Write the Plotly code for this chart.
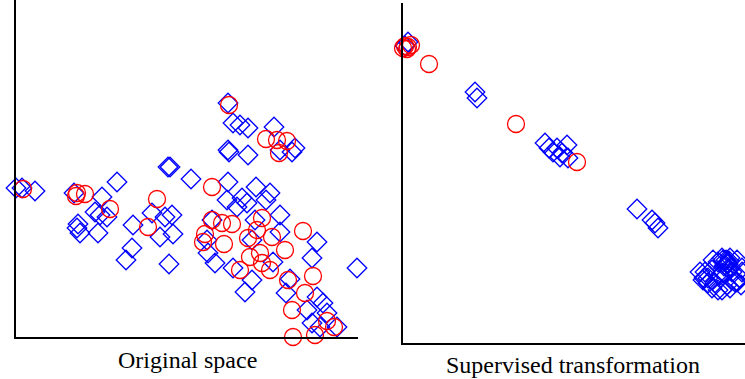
import plotly.graph_objects as go

# ---- Original space (left panel) ----
orig_blue_x = [0.00, 0.06, 0.19, 0.58, 0.86, 1.01, 1.52, 1.54, 1.75, 0.79, 0.84, 0.91, 1.36, 1.17,
               0.62, 0.64, 0.61, 0.82, 1.49, 1.56, 1.44, 1.57, 1.16, 1.10, 1.53, 2.12, 2.17, 2.24,
               2.32, 2.58, 2.64, 2.76, 2.79, 2.12, 2.13, 2.32, 2.12, 2.40, 2.54, 2.50, 2.26, 2.31,
               2.11, 2.64, 2.21, 1.96, 2.39, 2.64, 3.01, 2.96, 2.36, 1.91, 1.92, 1.99, 2.17, 2.36,
               2.29, 2.57, 3.41, 2.74, 2.70, 3.01, 3.07, 2.91, 3.11, 2.96, 3.04, 3.21]
orig_blue_y = [1.49, 1.49, 1.46, 1.44, 1.40, 1.55, 1.70, 1.70, 1.58, 1.25, 1.22, 1.20, 1.24, 1.12,
               1.13, 1.04, 1.09, 1.04, 1.20, 1.22, 1.00, 1.03, 0.89, 0.77, 0.73, 2.34, 2.14, 2.12,
               2.09, 2.10, 1.87, 1.85, 1.89, 1.87, 1.85, 1.82, 1.55, 1.50, 1.44, 1.37, 1.39, 1.34,
               1.37, 1.22, 1.30, 1.17, 1.17, 1.05, 0.95, 0.79, 0.97, 0.97, 0.84, 0.74, 0.69, 0.57,
               0.45, 0.75, 0.69, 0.58, 0.44, 0.40, 0.34, 0.27, 0.24, 0.14, 0.10, 0.10]
orig_red_x = [0.07, 0.61, 0.69, 0.60, 1.41, 0.94, 1.32, 2.13, 2.50, 2.61, 2.71, 2.63, 1.96, 2.46,
              1.96, 2.06, 2.16, 2.41, 2.32, 2.56, 2.87, 2.69, 1.89, 1.87, 2.08, 2.34, 2.44, 2.46,
              2.54, 2.24, 2.72, 2.97, 2.89, 2.76, 3.11, 3.18, 2.77, 2.99]
orig_red_y = [1.48, 1.44, 1.43, 1.41, 1.38, 1.28, 1.10, 2.32, 1.98, 1.97, 1.96, 1.84, 1.50, 1.19,
              1.17, 1.14, 1.13, 1.07, 0.99, 1.00, 1.06, 0.87, 1.03, 0.95, 0.93, 0.80, 0.84, 0.74,
              0.67, 0.67, 0.57, 0.61, 0.44, 0.27, 0.16, 0.10, 0.00, 0.02]

# ---- Supervised transformation (right panel) ----
sup_blue_x = [0.05, 0.02, 0.72, 0.74, 1.42, 1.54, 1.59, 1.64, 1.50, 1.65, 1.57, 1.46, 2.34, 2.49,
              2.52, 2.55, 3.02, 3.10, 3.20, 3.25, 3.34, 3.12, 3.24, 3.34, 3.05, 3.39, 3.15, 3.26,
              3.17, 3.29, 3.09, 3.00, 3.38, 3.22, 3.27, 3.20,
              3.19, 3.23, 3.25, 3.21, 3.27, 3.15, 2.97, 3.01, 3.05, 3.09, 3.32, 3.37, 3.39, 3.27, 3.19]
sup_blue_y = [3.01, 2.97, 2.51, 2.45, 2.00, 1.95, 1.90, 1.98, 1.91, 1.85, 1.86, 1.95, 1.34, 1.23,
              1.20, 1.15, 0.71, 0.83, 0.83, 0.80, 0.83, 0.60, 0.58, 0.61, 0.65, 0.75, 0.53, 0.82,
              0.68, 0.71, 0.73, 0.63, 0.58, 0.78, 0.76, 0.70,
              0.85, 0.83, 0.79, 0.77, 0.85, 0.81, 0.71, 0.65, 0.60, 0.55, 0.61, 0.65, 0.71, 0.55, 0.53]
sup_red_x = [0.00, 0.05, 0.08, 0.04, 0.02, 0.26, 1.13, 1.74]
sup_red_y = [2.95, 2.96, 2.98, 2.94, 2.97, 2.79, 2.19, 1.81]

panel_titles = ["Original space", "Supervised transformation"]

BLUE = "#0000ff"
RED = "#ff0000"
W, H = 745, 379

fig = go.Figure()

def add_pts(x, y, sym, size, color, xa, ya):
    fig.add_trace(go.Scatter(
        x=x, y=y, mode="markers", xaxis=xa, yaxis=ya, cliponaxis=False,
        marker=dict(symbol=sym, size=size, color=color,
                    line=dict(color=color, width=1.3)),
        showlegend=False, hoverinfo="skip"))

add_pts(orig_blue_x, orig_blue_y, "diamond-open", 15, BLUE, "x", "y")
add_pts(orig_red_x, orig_red_y, "circle-open", 17, RED, "x", "y")
add_pts(sup_blue_x, sup_blue_y, "diamond-open", 15, BLUE, "x2", "y2")
add_pts(sup_red_x, sup_red_y, "circle-open", 17, RED, "x2", "y2")

ax_common = dict(showgrid=False, zeroline=False, showticklabels=False, ticks="",
                 showline=True, linecolor="black", linewidth=2)

fig.update_layout(
    width=W, height=H,
    margin=dict(l=0, r=0, t=0, b=0),
    paper_bgcolor="white", plot_bgcolor="white",
    xaxis=dict(domain=[16 / W, 358 / W], range=[0, 3.42], **ax_common),
    yaxis=dict(domain=[(H - 337) / H, 1.0], range=[0, 3.37], **ax_common),
    xaxis2=dict(domain=[403 / W, 1.0], range=[0, 3.42], anchor="y2", **ax_common),
    yaxis2=dict(domain=[(H - 343) / H, (H - 3) / H], range=[0, 3.40], anchor="x2", **ax_common),
    annotations=[
        dict(text=panel_titles[0], x=187 / W, y=(H - 360) / H, xref="paper", yref="paper",
             showarrow=False, xanchor="center", yanchor="middle",
             font=dict(family="Liberation Serif", size=24, color="black")),
        dict(text=panel_titles[1], x=573 / W, y=(H - 365) / H, xref="paper", yref="paper",
             showarrow=False, xanchor="center", yanchor="middle",
             font=dict(family="Liberation Serif", size=24, color="black")),
    ],
)

fig.write_html("out.html", config={"displayModeBar": False},
               post_script="document.body.style.margin='0';document.body.style.overflow='hidden';")
